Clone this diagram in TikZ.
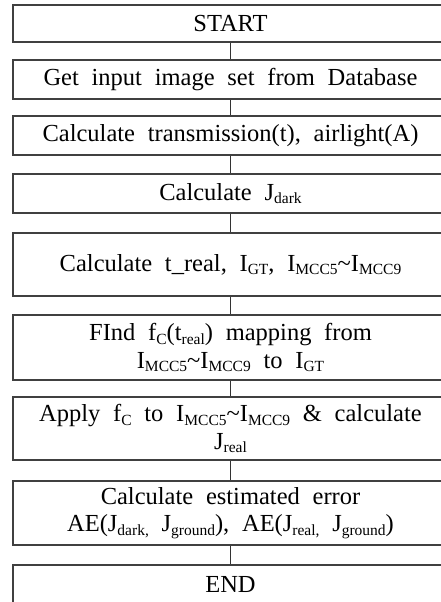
\documentclass[tikz,border=0pt]{standalone}
\usepackage{fontspec}
\setmainfont{Liberation Serif}
\newcommand{\sbs}[1]{\raisebox{-3.5pt}{\fontsize{15.5}{15.5}\selectfont #1}}
\newcommand{\tld}{\textasciitilde}
\tikzset{
  flowbox/.style={draw=black!75, line width=1.5pt, rectangle, inner sep=0pt,
    minimum width=435pt, align=center,
    font={\fontsize{24.5}{27.5}\selectfont\spaceskip=0.52em\relax}},
  link/.style={draw=black!80, line width=1pt}
}
\begin{document}
\begin{tikzpicture}[x=1pt,y=1pt]
\clip (0,0) rectangle (441,-602);
\node[flowbox, minimum height=37pt] (b1) at (230.5,-23.5) {START};
\node[flowbox, minimum height=39pt] (b2) at (230.5,-79.5) {Get input image set from Database};
\node[flowbox, minimum height=39pt] (b3) at (230.5,-135.5) {Calculate transmission(t), airlight(A)};
\node[flowbox, minimum height=39pt] (b4) at (230.5,-193.5) {Calculate J\sbs{dark}};
\node[flowbox, minimum height=63pt] (b5) at (230.5,-264.5) {Calculate t\_real, I\sbs{GT}, I\sbs{MCC5}\tld I\sbs{MCC9}};
\node[flowbox, minimum height=65pt] (b6) at (230.5,-347.5) {FInd f\sbs{C}(t\sbs{real}) mapping from\\ I\sbs{MCC5}\tld I\sbs{MCC9} to I\sbs{GT}};
\node[flowbox, minimum height=63pt] (b7) at (230.5,-428.5) {Apply f\sbs{C} to I\sbs{MCC5}\tld I\sbs{MCC9} \& calculate\\ J\sbs{real}};
\node[flowbox, minimum height=64pt] (b8) at (230.5,-513) {Calculate estimated error\\ AE(J\sbs{dark,} J\sbs{ground}), AE(J\sbs{real,} J\sbs{ground})};
\node[flowbox, minimum height=39pt] (b9) at (230.5,-584.5) {END};
\foreach \a/\b in {b1/b2,b2/b3,b3/b4,b4/b5,b5/b6,b6/b7,b7/b8,b8/b9}
  \draw[link] (\a.south) -- (\b.north);
\end{tikzpicture}
\end{document}
